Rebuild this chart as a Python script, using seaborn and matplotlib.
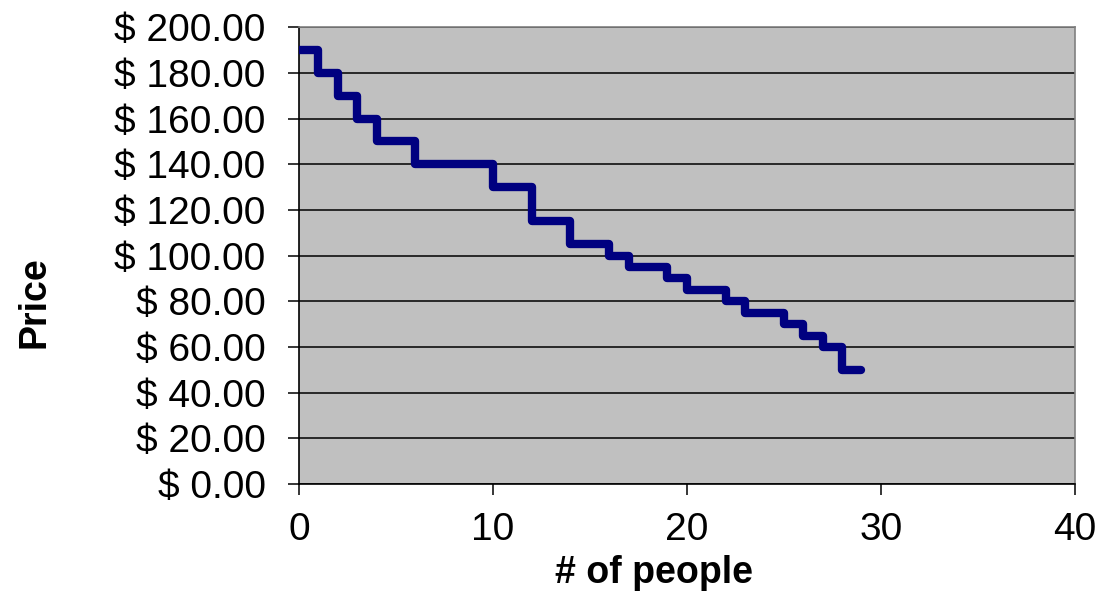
import matplotlib
matplotlib.use("Agg")
import matplotlib.pyplot as plt
import seaborn as sns
import pandas as pd
from matplotlib.ticker import FuncFormatter, MultipleLocator

# Demand schedule: number of people willing to pay at each price level
people = [0, 1, 2, 3, 4, 6, 10, 12, 14, 16, 17, 19, 20, 22, 23, 25, 26, 27, 28, 29]
price = [190, 180, 170, 160, 150, 140, 130, 115, 105, 100, 95, 90, 85, 80, 75, 70, 65, 60, 50, 50]

df = pd.DataFrame({"people": people, "price": price})

sns.set_theme(style="white")
plt.rcParams["font.family"] = ["Liberation Sans", "DejaVu Sans"]
plt.rcParams["text.color"] = "black"
plt.rcParams["axes.labelcolor"] = "black"
plt.rcParams["xtick.color"] = "black"
plt.rcParams["ytick.color"] = "black"

fig = plt.figure(figsize=(10.99, 5.91), dpi=100)
ax = fig.add_axes([0.272, 0.181, 0.706, 0.773])
ax.set_facecolor("#C0C0C0")

sns.lineplot(data=df, x="people", y="price", ax=ax, drawstyle="steps-post",
             color="#000080", linewidth=6.0, solid_capstyle="round",
             solid_joinstyle="round", zorder=3)

ax.set_xlim(0, 40)
ax.set_ylim(0, 200)
ax.xaxis.set_major_locator(MultipleLocator(10))
ax.yaxis.set_major_locator(MultipleLocator(20))
ax.yaxis.set_major_formatter(FuncFormatter(lambda v, _: f"$ {v:.2f}"))

ax.grid(axis="y", color="black", linewidth=1.1)
ax.grid(axis="x", visible=False)
ax.set_axisbelow(True)

for side in ("left", "bottom"):
    ax.spines[side].set_color("black")
    ax.spines[side].set_linewidth(1.2)
for side in ("top", "right"):
    ax.spines[side].set_color("#808080")
    ax.spines[side].set_linewidth(1.2)

ax.tick_params(axis="both", which="major", direction="out", length=8, width=1.1,
               color="black", labelcolor="black", labelsize=28,
               left=True, bottom=True)
ax.tick_params(axis="y", pad=16)
ax.tick_params(axis="x", pad=12)

ax.set_xlabel("# of people", fontsize=27, fontweight="bold")
ax.set_ylabel("Price", fontsize=27, fontweight="bold")
ax.xaxis.set_label_coords(0.457, -0.156)
ax.yaxis.set_label_coords(-0.317, 0.399)

fig.savefig("out.png", dpi=100)
